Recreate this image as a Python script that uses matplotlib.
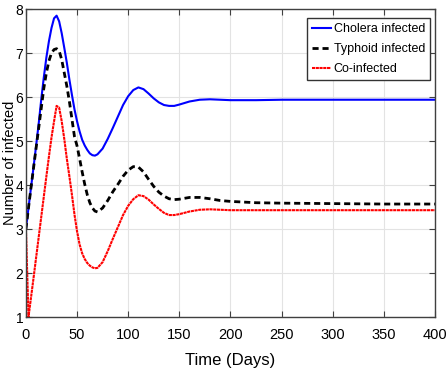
import numpy as np
import matplotlib
matplotlib.use('Agg')
import matplotlib.pyplot as plt

plt.rcParams['font.family'] = ['Liberation Sans', 'DejaVu Sans']

# time points (days)
t = [0, 2.5, 5, 7.5, 10, 12.5, 15, 17.5, 20, 22.5, 25, 27.5, 30, 32.5, 35, 37.5,
     40, 42.5, 45, 47.5, 50, 52.5, 55, 57.5, 60, 62.5, 65, 67.5, 70, 75, 80, 85,
     90, 95, 100, 105, 110, 115, 120, 125, 130, 135, 140, 145, 150, 160, 170,
     180, 190, 200, 225, 250, 300, 350, 400]

cholera = [3.0, 3.48, 3.95, 4.42, 4.9, 5.4, 5.95, 6.45, 6.9, 7.27, 7.57, 7.79,
           7.85, 7.72, 7.45, 7.12, 6.78, 6.4, 6.05, 5.72, 5.45, 5.22, 5.03, 4.9,
           4.8, 4.72, 4.68, 4.67, 4.7, 4.83, 5.05, 5.3, 5.56, 5.82, 6.02, 6.16,
           6.22, 6.18, 6.08, 5.97, 5.88, 5.82, 5.8, 5.8, 5.83, 5.9, 5.94, 5.95,
           5.94, 5.93, 5.93, 5.94, 5.94, 5.94, 5.94]

typhoid = [3.0, 3.48, 3.95, 4.4, 4.85, 5.3, 5.75, 6.2, 6.55, 6.82, 7.0, 7.08,
           7.1, 7.05, 6.85, 6.55, 6.25, 5.9, 5.5, 5.1, 4.89, 4.6, 4.3, 4.02,
           3.78, 3.6, 3.48, 3.41, 3.39, 3.48, 3.65, 3.85, 4.02, 4.2, 4.34, 4.42,
           4.41, 4.3, 4.13, 3.97, 3.84, 3.75, 3.69, 3.67, 3.68, 3.72, 3.72, 3.69,
           3.65, 3.63, 3.6, 3.59, 3.58, 3.57, 3.57]

coinfected = [3.0, 1.0, 1.45, 1.9, 2.36, 2.82, 3.28, 3.74, 4.2, 4.65, 5.08, 5.45,
              5.8, 5.76, 5.45, 5.05, 4.6, 4.2, 3.78, 3.33, 2.95, 2.65, 2.45, 2.32,
              2.23, 2.17, 2.13, 2.11, 2.12, 2.25, 2.5, 2.78, 3.05, 3.32, 3.53, 3.68,
              3.77, 3.75, 3.67, 3.56, 3.46, 3.37, 3.32, 3.32, 3.34, 3.4, 3.44, 3.45,
              3.44, 3.43, 3.43, 3.43, 3.43, 3.43, 3.43]

fig = plt.figure(figsize=(4.47, 3.78), dpi=100)
ax = fig.add_axes([0.058, 0.161, 0.915, 0.815])

ax.plot(t, cholera, color='#0000ff', lw=1.5, label='Cholera infected')
ax.plot(t, typhoid, color='black', lw=2.0, linestyle=(0, (2.2, 1.4)), label='Typhoid infected')
ax.plot(t, coinfected, color='#ff0000', lw=1.5, linestyle=(0, (1.5, 0.3)), label='Co-infected')

ax.set_xlim(0, 400)
ax.set_ylim(1, 8)
ax.set_xticks(np.arange(0, 401, 50))
ax.set_yticks(np.arange(1, 9, 1))
ax.grid(True, color='#e3e3e3', lw=0.8)
ax.set_axisbelow(True)
ax.tick_params(direction='in', top=True, right=True, labelsize=10.5, length=4,
               color='#404040')
ax.tick_params(axis='x', pad=8)
ax.tick_params(axis='y', pad=2, labelsize=10)
for s in ax.spines.values():
    s.set_color('#404040')
    s.set_linewidth(1.0)

ax.set_xlabel('Time (Days)', fontsize=12, labelpad=8)
ax.set_ylabel('Number of infected', fontsize=10.5)
ax.yaxis.set_label_coords(-0.022, 0.5)

leg = ax.legend(loc='upper right', fontsize=9, frameon=True, fancybox=False,
                edgecolor='#333333', framealpha=1, handlelength=1.5,
                handletextpad=0.2, borderpad=0.4, labelspacing=0.65,
                borderaxespad=0, bbox_to_anchor=(0.988, 0.971))
leg.get_frame().set_linewidth(1.0)

fig.savefig('out.png', dpi=100)
